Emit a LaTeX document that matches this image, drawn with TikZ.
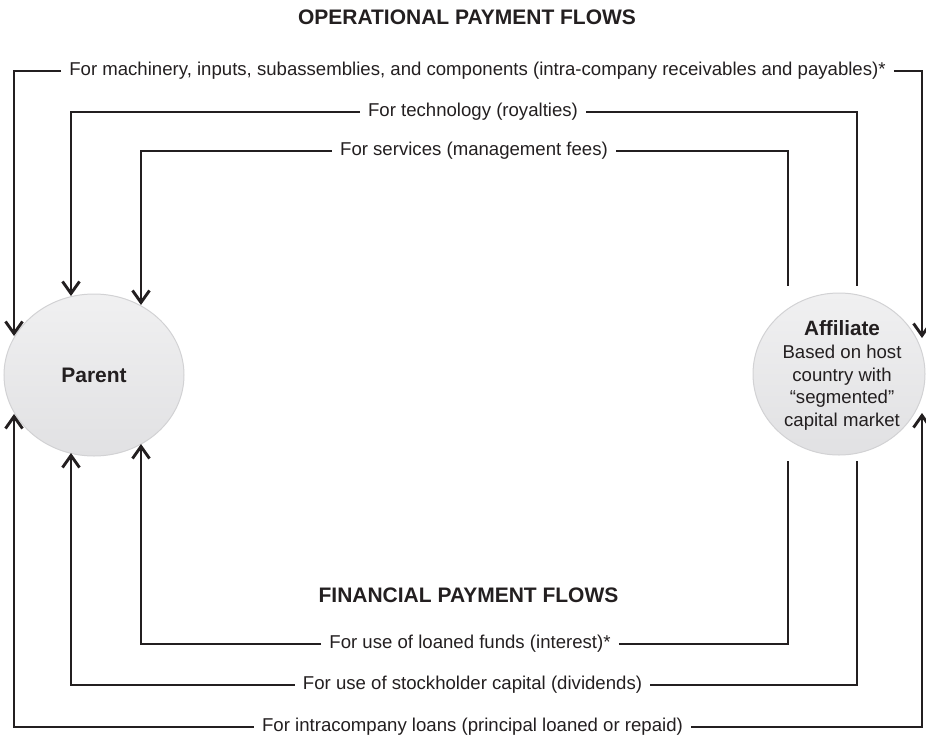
\documentclass[tikz,border=0pt]{standalone}
\usepackage{fontspec}
\setmainfont{Liberation Sans}
\usetikzlibrary{arrows.meta,shapes.geometric}
\definecolor{ink}{HTML}{231F20}
\definecolor{circtop}{HTML}{F0F0F1}
\definecolor{circbot}{HTML}{E1E1E3}
\definecolor{circedge}{HTML}{D2D2D4}
\begin{document}
\begin{tikzpicture}[x=1pt,y=-1pt,
  flow/.style={draw=ink,line width=2.9pt},
  tip/.style={-{Straight Barb[length=12pt,width=17pt]}},
  lbl/.style={font=\fontsize{18.6}{22}\selectfont, text=ink, inner xsep=8pt, inner ysep=0pt},
  ttl/.style={font=\bfseries\fontsize{21}{25}\selectfont, text=ink},
  party/.style={ellipse, draw=circedge, line width=1pt, top color=circtop, bottom color=circbot, inner sep=0pt, text=ink}]
\useasboundingbox (0,0) rectangle (926,736);

% titles
\node[ttl] (optitle) at (467,17.5) {OPERATIONAL PAYMENT FLOWS};
\node[ttl] (fintitle) at (468.5,595) {FINANCIAL PAYMENT FLOWS};

% parties
\node[party, minimum width=180pt, minimum height=162pt,
      font=\bfseries\fontsize{21}{25}\selectfont] (parent) at (94,375) {Parent};
\node[party, minimum width=172pt, minimum height=162pt] (affiliate) at (839,374) {};
\node[align=center, text=ink, font=\fontsize{18.6}{22.5}\selectfont, inner sep=0pt]
  (afftext) at (842,375)
  {{\bfseries\fontsize{20.7}{24}\selectfont Affiliate}\\[1pt]
   Based on host\\ country with\\ “segmented”\\ capital market};

% labels
\node[lbl] (l1) at (477.5,71) {For machinery, inputs, subassemblies, and components (intra-company receivables and payables)*};
\node[lbl] (l2) at (473,112) {For technology (royalties)};
\node[lbl] (l3) at (474,151) {For services (management fees)};
\node[lbl] (l4) at (470,644) {For use of loaned funds (interest)*};
\node[lbl] (l5) at (472.5,685) {For use of stockholder capital (dividends)};
\node[lbl] (l6) at (472.5,727) {For intracompany loans (principal loaned or repaid)};

% end points
\coordinate (p1) at (14,336);
\coordinate (p2) at (71,296);
\coordinate (p3) at (141,305);
\coordinate (p4) at (141,444);
\coordinate (p5) at (71,453);
\coordinate (p6) at (14,414);
\coordinate (a1) at (922,338);
\coordinate (a2) at (857,286);
\coordinate (a3) at (788,286);
\coordinate (a4) at (788,461);
\coordinate (a5) at (857,461);
\coordinate (a6) at (922,413);

% operational flows
\draw[flow,tip] (l1.west) -| (p1);
\draw[flow,tip] (l1.east) -| (a1);
\draw[flow,tip] (l2.west) -| (p2);
\draw[flow] (l2.east) -| (a2);
\draw[flow,tip] (l3.west) -| (p3);
\draw[flow] (l3.east) -| (a3);

% financial flows
\draw[flow,tip] (l4.west) -| (p4);
\draw[flow] (l4.east) -| (a4);
\draw[flow,tip] (l5.west) -| (p5);
\draw[flow] (l5.east) -| (a5);
\draw[flow,tip] (l6.west) -| (p6);
\draw[flow,tip] (l6.east) -| (a6);
\end{tikzpicture}
\end{document}
